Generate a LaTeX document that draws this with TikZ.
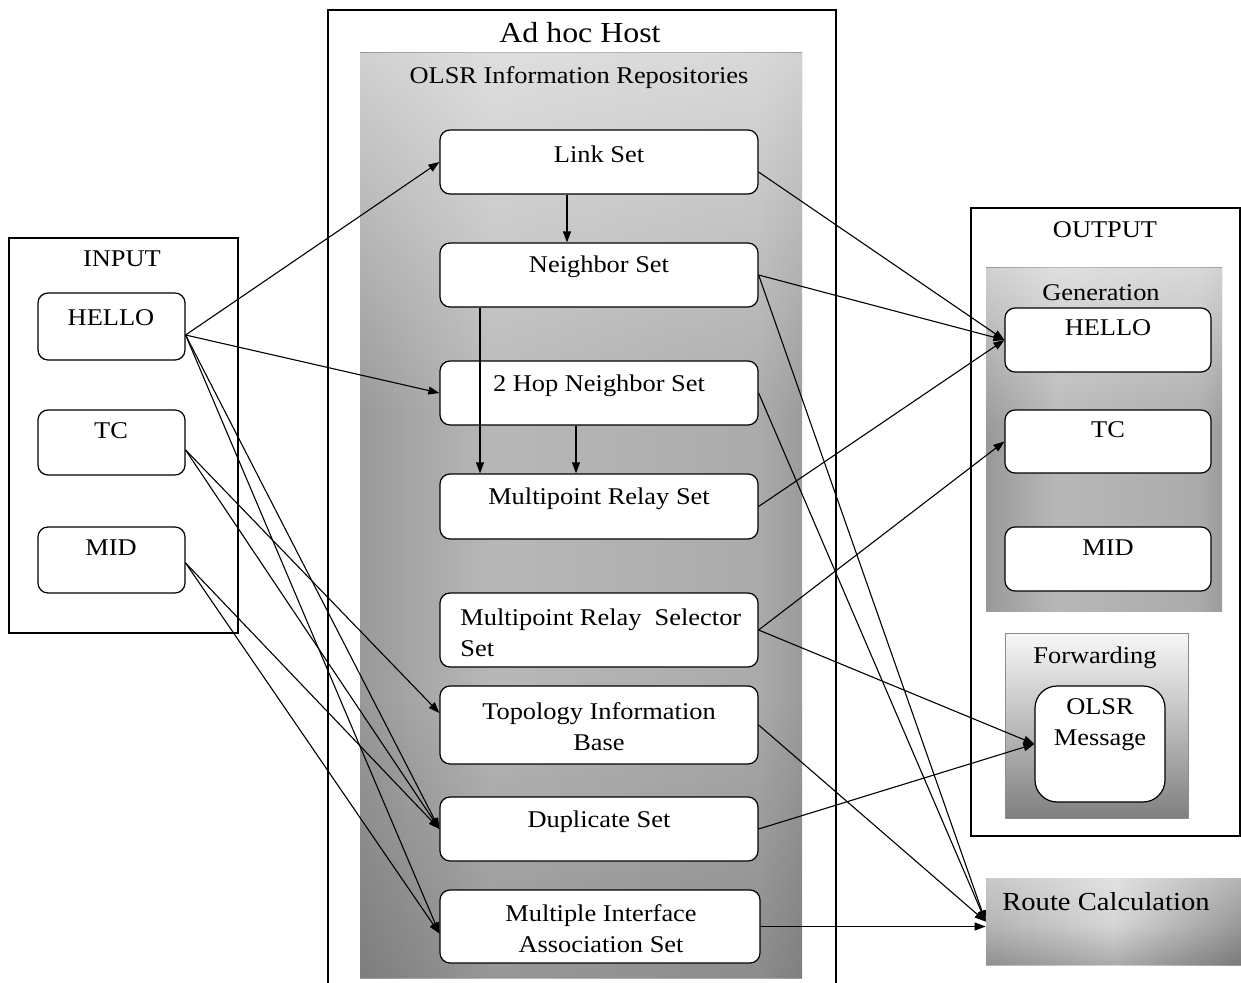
\documentclass[tikz,border=0pt]{standalone}
\usepackage{fontspec}
\setmainfont{Liberation Serif}[FakeStretch=1.1]
\usetikzlibrary{arrows.meta,fadings}
\tikzfading[name=fadedown, top color=transparent!45, bottom color=transparent!100]
\tikzfading[name=fadeup, top color=transparent!100, bottom color=transparent!0]
% grey band that is light in the middle and dark towards both sides
\pgfdeclarehorizontalshading{panelshade}{100bp}{color(0bp)=(black!64); color(10bp)=(black!52); color(40bp)=(black!28); color(70bp)=(black!33); color(88bp)=(black!55); color(100bp)=(black!72)}
\pgfdeclarehorizontalshading{routeshade}{100bp}{color(0bp)=(black!52); color(20bp)=(black!32); color(50bp)=(black!16); color(80bp)=(black!45); color(100bp)=(black!75)}
\begin{document}
\begin{tikzpicture}[x=0.5pt,y=-0.5pt,
  arr/.style={-{Triangle[length=5.5pt,width=4pt]}, line width=0.55pt},
  setbox/.style={draw, line width=0.6pt, rounded corners=5pt, fill=white, inner sep=0pt},
  txt/.style={inner sep=0pt, font=\fontsize{12}{15.5}\selectfont},
  cont/.style={draw, line width=0.6pt}]
\useasboundingbox (0,0) rectangle (1241,983);
\fill[white] (0,0) rectangle (1241,983);

% ---------- INPUT ----------
\draw[cont] (9,238) rectangle (238,633);
\node[txt] at (122,259) {INPUT};
\node[setbox, minimum width=73.5pt, minimum height=33.5pt] (ih) at (111.5,326.5) {};
\node[setbox, minimum width=73.5pt, minimum height=32.5pt] (itc) at (111.5,442.5) {};
\node[setbox, minimum width=73.5pt, minimum height=33pt] (imid) at (111.5,560) {};
\node[txt] at (111,318) {HELLO};
\node[txt] at (111,431) {TC};
\node[txt] at (111,548) {MID};

% ---------- Ad hoc host ----------
\draw[cont] (328,990) -- (328,10) -- (836,10) -- (836,990);
\node[txt, font=\fontsize{14.5}{17}\selectfont] at (580,33) {Ad hoc Host};

% repository panel with shaded background
\shade[shading=panelshade] (360,53) rectangle (802,978);
\fill[white, path fading=fadedown] (360,53) rectangle (802,420);
\fill[black, path fading=fadeup, opacity=0.18] (360,700) rectangle (802,978);
\node[txt] at (579,78) {OLSR Information Repositories};

\node[setbox, minimum width=159pt, minimum height=32pt] (ls) at (599,162) {};
\node[setbox, minimum width=159pt, minimum height=32pt] (ns) at (599,275) {};
\node[setbox, minimum width=159pt, minimum height=32pt] (th) at (599,393) {};
\node[setbox, minimum width=159pt, minimum height=32.5pt] (mpr) at (599,506.5) {};
\node[setbox, minimum width=159pt, minimum height=37pt] (mprs) at (599,630) {};
\node[setbox, minimum width=159pt, minimum height=39pt] (tib) at (599,725) {};
\node[setbox, minimum width=159pt, minimum height=32pt] (dup) at (599,829) {};
\node[setbox, minimum width=160pt, minimum height=36.5pt] (mia) at (600,926.5) {};

\node[txt] at (599,154) {Link Set};
\node[txt] at (599,267) {Neighbor Set};
\node[txt] at (599,386) {2 Hop Neighbor Set};
\node[txt] at (599,499) {Multipoint Relay Set};
\node[txt, anchor=west, align=left] at (460,632.5) {Multipoint Relay \ Selector\\Set};
\node[txt, align=center] at (599,726.5) {Topology Information\\Base};
\node[txt] at (599,822) {Duplicate Set};
\node[txt, align=center] at (601,928.5) {Multiple Interface\\Association Set};

% ---------- OUTPUT ----------
\draw[cont] (971,208) rectangle (1240,836);
\node[txt] at (1105,230) {OUTPUT};
\shade[shading=panelshade] (986,268) rectangle (1222,611);
\fill[white, path fading=fadedown] (986,268) rectangle (1222,430);
\node[txt] at (1101,293) {Generation};
\node[setbox, minimum width=103pt, minimum height=32pt] (oh) at (1108,340) {};
\node[setbox, minimum width=103pt, minimum height=31.5pt] (otc) at (1108,441.5) {};
\node[setbox, minimum width=103pt, minimum height=32pt] (omid) at (1108,559) {};
\node[txt] at (1108,328) {HELLO};
\node[txt] at (1108,430) {TC};
\node[txt] at (1108,548) {MID};

\shade[draw=black!45, line width=0.4pt, top color=black!3, bottom color=black!50] (1005,633) rectangle (1188,818);
\node[txt] at (1095,658) {Forwarding};
\node[setbox, rounded corners=11pt, minimum width=65pt, minimum height=58pt] (om) at (1100,744) {};
\node[txt, align=center] at (1100,725) {OLSR\\Message};

% ---------- Route calculation ----------
\shade[shading=routeshade] (986,878) rectangle (1241,965);
\fill[white, path fading=fadedown, opacity=0.5] (986,878) rectangle (1241,925);
\fill[black, path fading=fadeup, opacity=0.2] (986,925) rectangle (1241,965);
\node[inner sep=0pt, minimum width=127.5pt, minimum height=43.5pt] (rc) at (1113.5,921.5) {};
\node[txt, font=\fontsize{13}{15.5}\selectfont] at (1106,902) {Route Calculation};

% ---------- connectors inside the repository ----------
\draw[arr] ([xshift=-16pt]ls.south) -- ([xshift=-16pt]ns.north);
\draw[arr] ([xshift=-59.5pt]ns.south) -- ([xshift=-59.5pt]mpr.north);
\draw[arr] ([xshift=-11.5pt]th.south) -- ([xshift=-11.5pt]mpr.north);

% ---------- input messages to repositories ----------
\draw[arr] ([yshift=-4.25pt]ih.east) -- (ls.west);
\draw[arr] ([yshift=-4.25pt]ih.east) -- (th.west);
\draw[arr] ([yshift=-4.25pt]ih.east) -- (dup.west);
\draw[arr] ([yshift=-4.25pt]ih.east) -- ([yshift=-3.5pt]mia.west);
\draw[arr] ([yshift=-3.75pt]itc.east) -- ([yshift=6pt]tib.west);
\draw[arr] ([yshift=-3.75pt]itc.east) -- (dup.west);
\draw[arr] ([yshift=-1.5pt]imid.east) -- (dup.west);
\draw[arr] ([yshift=-1.5pt]imid.east) -- ([yshift=-3.5pt]mia.west);

% ---------- repositories to output ----------
\draw[arr] ([yshift=-5pt]ls.east) -- (oh.west);
\draw[arr] (ns.east) -- (oh.west);
\draw[arr] (mpr.east) -- (oh.west);
\draw[arr] (mprs.east) -- (otc.west);
\draw[arr] (mprs.east) -- (om.west);
\draw[arr] (dup.east) -- (om.west);
\draw[arr] (ns.east) -- (rc.west);
\draw[arr] (th.east) -- (rc.west);
\draw[arr] (tib.east) -- (rc.west);
\draw[arr] (mia.east) -- (mia.east -| rc.west);
\end{tikzpicture}
\end{document}
